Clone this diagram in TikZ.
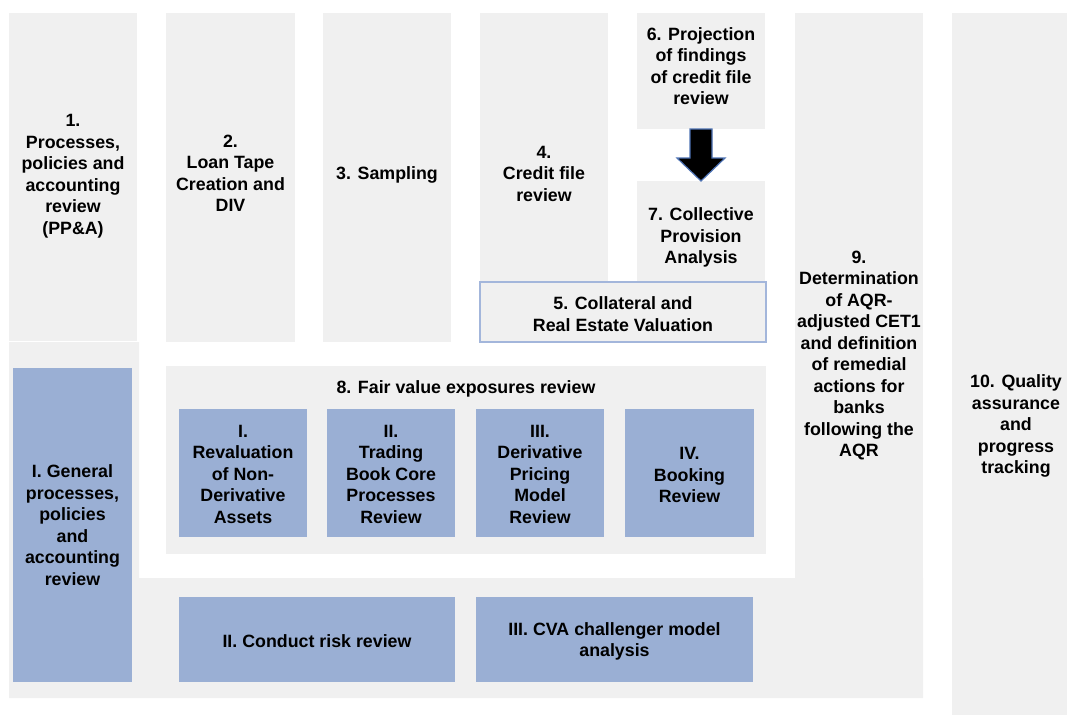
\documentclass[tikz,border=0pt]{standalone}
\usepackage{fontspec}
\setmainfont{Liberation Sans}
\usetikzlibrary{calc}
\definecolor{panel}{HTML}{F0F0F0}
\definecolor{subblue}{HTML}{9AAFD4}
\definecolor{edgeblue}{HTML}{A3B6DB}
\definecolor{arrowedge}{HTML}{4E73B4}
\begin{document}
\begin{tikzpicture}[x=1pt,y=-1pt,
  every node/.style={inner sep=0pt, outer sep=0pt},
  lbl/.style={font=\bfseries\fontsize{17.8}{21.5}\selectfont, align=center, text=black},
  panelbox/.style={fill=panel, draw=none, anchor=north west},
  bluebox/.style={fill=subblue, draw=none, anchor=north west},
  sz/.style 2 args={minimum width=#1, minimum height=#2},
]
\useasboundingbox (0,0) rectangle (1067,715);

% shared background: lower part of column 1 and the bottom strip
\fill[panel] (9,342) -- (139,342) -- (139,578) -- (923,578) -- (923,698) -- (9,698) -- cycle;

% top row of steps
\node[panelbox, sz={128}{328}] (c1) at (9,13) {};
\node[panelbox, sz={129}{329}] (c2) at (166,13) {};
\node[panelbox, sz={128}{329}] (c3) at (323,13) {};
\node[panelbox, sz={128}{329}] (c4) at (480,13) {};
\node[panelbox, sz={128}{116}] (b6) at (637,13) {};
\node[panelbox, sz={128}{101}] (b7) at (637,181) {};
\node[panelbox, sz={286}{60}, draw=edgeblue, line width=1.5pt] (b5) at (480,282) {};

\node[lbl] (c1t) at ($(c1.center)+(0,-1)$) {1.\\Processes,\\policies and\\accounting\\review\\(PP\&A)};
\node[lbl] (c2t) at ($(c2.center)+(0,-4)$) {2.\\Loan Tape\\Creation and\\DIV};
\node[lbl] (c3t) at ($(c3.center)+(0,-3)$) {3. Sampling};
\node[lbl] (c4t) at ($(c4.center)+(0,-4)$) {4.\\Credit file\\review};
\node[lbl] (b6t) at ($(b6.center)+(0,-5)$) {6. Projection\\of findings\\of credit file\\review};
\node[lbl] (b7t) at ($(b7.center)+(0,6)$) {7. Collective\\Provision\\Analysis};
\node[lbl] (b5t) at ($(b5.center)+(0,2)$) {5. Collateral and\\Real Estate Valuation};

% block arrow from step 6 to step 7
\filldraw[fill=black, draw=arrowedge, line width=1.2pt, line join=miter]
  ($(b6.south)+(-11,0)$) -- ($(b6.south)+(-11,29)$) -- ($(b6.south)+(-24,29)$)
  -- (b7.north) -- ($(b6.south)+(24,29)$) -- ($(b6.south)+(11,29)$)
  -- ($(b6.south)+(11,0)$) -- cycle;

% right-hand columns
\node[panelbox, sz={128}{685}] (c9) at (795,13) {};
\node[lbl] (c9t) at (c9.center) {9.\\Determination\\of AQR-\\adjusted CET1\\and definition\\of remedial\\actions for\\banks\\following the\\AQR};
\node[panelbox, sz={115}{702}] (c10) at (952,13) {};
\node[lbl] (c10t) at (1016,426) {10. Quality\\assurance\\and\\progress\\tracking};

% general review
\node[bluebox, sz={119}{314}] (gen) at (13,368) {};
\node[lbl] (gent) at (gen.center) {I. General\\processes,\\policies\\and\\accounting\\review};

% fair value exposures review
\node[panelbox, sz={600}{188}] (fv) at (166,366) {};
\node[lbl] (fvt) at (466,389) {8. Fair value exposures review};
\node[bluebox, sz={128}{128}] (s1) at (179,409) {};
\node[bluebox, sz={128}{128}] (s2) at (327,409) {};
\node[bluebox, sz={128}{128}] (s3) at (476,409) {};
\node[bluebox, sz={129}{128}] (s4) at (625,409) {};
\node[lbl] (s1t) at ($(s1.center)+(0,1)$) {I.\\Revaluation\\of Non-\\Derivative\\Assets};
\node[lbl] (s2t) at ($(s2.center)+(0,1)$) {II.\\Trading\\Book Core\\Processes\\Review};
\node[lbl] (s3t) at ($(s3.center)+(0,1)$) {III.\\Derivative\\Pricing\\Model\\Review};
\node[lbl] (s4t) at ($(s4.center)+(0,2)$) {IV.\\Booking\\Review};

% bottom strip
\node[bluebox, sz={276}{85}] (cr) at (179,597) {};
\node[bluebox, sz={277}{85}] (cva) at (476,597) {};
\node[lbl] (crt) at ($(cr.center)+(0,2)$) {II. Conduct risk review};
\node[lbl] (cvat) at ($(cva.center)+(0,2)$) {III. CVA challenger model\\analysis};
\end{tikzpicture}
\end{document}
